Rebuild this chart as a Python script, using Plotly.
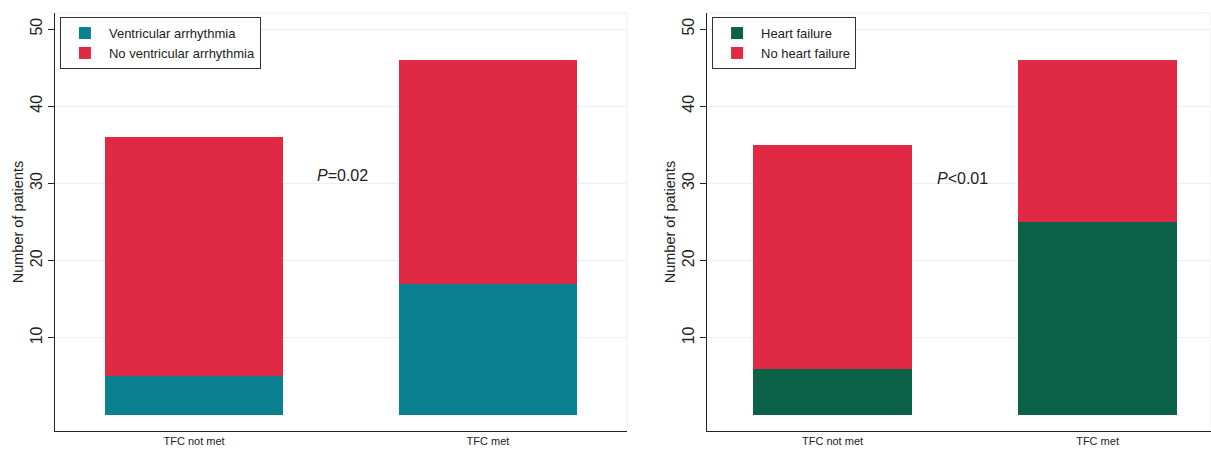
import plotly.graph_objects as go

categories = ["TFC not met", "TFC met"]
va_yes = [5, 17]
va_no = [31, 29]
hf_yes = [6, 25]
hf_no = [29, 21]
y_ticks = [10, 20, 30, 40, 50]

TEAL = "#0b8090"
RED = "#e02a45"
GREEN = "#0b6246"
FONT = "Liberation Sans"

fig = go.Figure()
fig.add_trace(go.Bar(x=categories, y=va_yes, name="Ventricular arrhythmia",
                     marker=dict(color=TEAL, line=dict(width=0)), width=0.604,
                     xaxis="x", yaxis="y", legend="legend"))
fig.add_trace(go.Bar(x=categories, y=va_no, name="No ventricular arrhythmia",
                     marker=dict(color=RED, line=dict(width=0)), width=0.604,
                     xaxis="x", yaxis="y", legend="legend"))
fig.add_trace(go.Bar(x=categories, y=hf_yes, name="Heart failure",
                     marker=dict(color=GREEN, line=dict(width=0)), width=0.6,
                     xaxis="x2", yaxis="y2", legend="legend2"))
fig.add_trace(go.Bar(x=categories, y=hf_no, name="No heart failure",
                     marker=dict(color=RED, line=dict(width=0)), width=0.6,
                     xaxis="x2", yaxis="y2", legend="legend2"))

yax = dict(range=[-2.07, 52.07], tickvals=y_ticks, ticks="outside", ticklen=6,
           tickcolor="#222", showline=True, linecolor="#222", linewidth=1,
           showgrid=True, gridcolor="#e9eff4", gridwidth=1, zeroline=False,
           tickangle=-90, tickfont=dict(size=16, color="#222"),
           title=dict(text="Number of patients", font=dict(size=14.5, color="#222"), standoff=0))
xax = dict(type="category", showline=True, linecolor="#222", linewidth=1,
           ticks="", showgrid=False, tickfont=dict(size=11, color="#222"))

leg = dict(xanchor="left", yanchor="top", bgcolor="white", bordercolor="#333",
           borderwidth=1, traceorder="normal", itemwidth=38,
           font=dict(size=13, color="#222"))

fig.update_layout(
    width=1211, height=450,
    margin=dict(l=0, r=0, t=0, b=0),
    paper_bgcolor="white", plot_bgcolor="white",
    font=dict(family=FONT, color="#222"),
    barmode="stack", bargap=0.4,
    xaxis=dict(xax, domain=[0.0454, 0.5178], range=[-0.473, 1.473], anchor="y"),
    yaxis=dict(yax, domain=[0.0422, 0.971], anchor="x"),
    xaxis2=dict(xax, domain=[0.5838, 1.0], range=[-0.4736, 1.428], anchor="y2"),
    yaxis2=dict(yax, domain=[0.0422, 0.971], anchor="x2"),
    legend=dict(leg, x=0.0495, y=0.962),
    legend2=dict(leg, x=0.588, y=0.962),
    showlegend=True,
)

# faint plot-region border (top and right)
for xr, yr in [("x domain", "y domain"), ("x2 domain", "y2 domain")]:
    fig.add_shape(type="line", xref=xr, yref=yr, x0=0, x1=1, y0=1, y1=1,
                  line=dict(color="#e9eff4", width=1), layer="below")
    fig.add_shape(type="line", xref=xr, yref=yr, x0=1, x1=1, y0=0, y1=1,
                  line=dict(color="#e9eff4", width=1), layer="below")

fig.add_annotation(x=0.2832, y=0.609, xref="paper", yref="paper",
                   xanchor="center", yanchor="middle",
                   text="<i>P</i>=0.02", showarrow=False,
                   font=dict(size=16, color="#222"))
fig.add_annotation(x=0.795, y=0.604, xref="paper", yref="paper",
                   xanchor="center", yanchor="middle",
                   text="<i>P</i>&lt;0.01", showarrow=False,
                   font=dict(size=16, color="#222"))

fig.write_html("out.html", config={"displayModeBar": False},
               post_script="document.body.style.margin='0';document.body.style.overflow='hidden';")
